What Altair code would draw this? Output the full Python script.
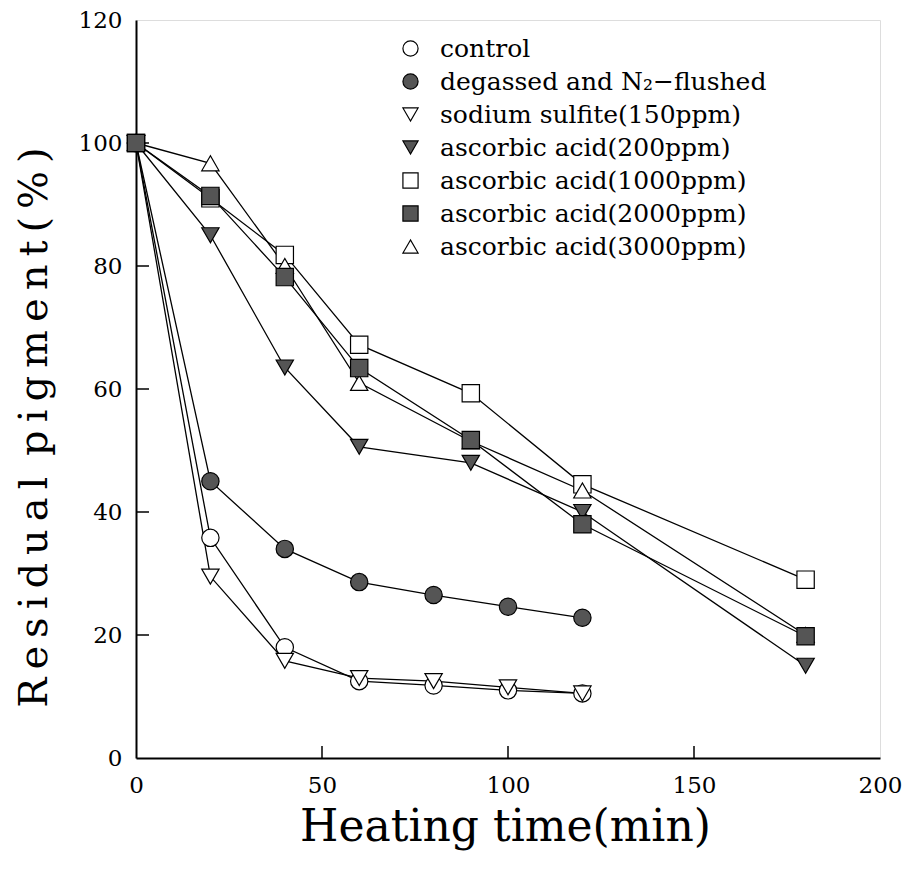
import altair as alt
import pandas as pd

series_names = [
    "control",
    "degassed and N₂−flushed",
    "sodium sulfite(150ppm)",
    "ascorbic acid(200ppm)",
    "ascorbic acid(1000ppm)",
    "ascorbic acid(2000ppm)",
    "ascorbic acid(3000ppm)",
]
series_shapes = ["circle", "circle", "triangle-down", "triangle-down", "square", "square", "triangle-up"]
series_fills = ["white", "#555555", "white", "#555555", "white", "#555555", "white"]
series_strokes = ["black"] * 7
draw_rank = [0, 1, 2, 3, 4, 6, 5]  # 2000ppm squares drawn over 3000ppm triangles

t_short = [0, 20, 40, 60, 80, 100, 120]
t_long = [0, 20, 40, 60, 90, 120, 180]

control = [100, 35.8, 18.0, 12.5, 11.8, 11.0, 10.5]
degassed = [100, 45.0, 34.0, 28.6, 26.5, 24.6, 22.8]
sulfite = [100, 29.5, 15.8, 13.0, 12.5, 11.5, 10.5]
asc200 = [100, 85.0, 63.5, 50.6, 48.0, 40.0, 15.0]
asc1000 = [100, 91.0, 81.8, 67.2, 59.3, 44.5, 29.0]
asc2000 = [100, 91.4, 78.2, 63.4, 51.7, 38.0, 19.8]
asc3000 = [100, 96.7, 80.0, 61.0, 51.5, 43.5, 20.0]

x_ticks = [50, 100, 150]
y_ticks = [20, 40, 60, 80, 100]

x_title = "Heating time(min)"
y_title = "Residual pigment(%)"

rows = []
for i, (ts, vs) in enumerate([
    (t_short, control), (t_short, degassed), (t_short, sulfite),
    (t_long, asc200), (t_long, asc1000), (t_long, asc2000), (t_long, asc3000),
]):
    for t, v in zip(ts, vs):
        rows.append({"series": series_names[i], "rank": draw_rank[i], "t": t, "v": v})
df = pd.DataFrame(rows).sort_values(["rank", "t"]).reset_index(drop=True)

serif = "DejaVu Serif"
W, H = 744, 738
thin = "\u2009"
y_title_spaced = (" " + thin).join(thin.join(word) for word in y_title.split(" "))

x = alt.X("t:Q", scale=alt.Scale(domain=[0, 200], nice=False),
          axis=alt.Axis(values=[0, 50, 100, 150, 200], title=x_title, ticks=False, grid=False,
                        labelFont=serif, labelFontSize=23, labelPadding=16, labelFlush=False,
                        titleFont=serif, titleFontSize=44, titleFontWeight="normal",
                        titleX=369, titleY=82, titleBaseline="alphabetic", titleAlign="center",
                        domainColor="black", domainWidth=2, labelColor="black", titleColor="black"))
y = alt.Y("v:Q", scale=alt.Scale(domain=[0, 120], nice=False),
          axis=alt.Axis(values=[0, 20, 40, 60, 80, 100, 120], title=y_title_spaced, ticks=False, grid=False,
                        labelFont=serif, labelFontSize=23, labelPadding=14, labelFlush=False,
                        titleFont=serif, titleFontSize=40, titleFontWeight="normal",
                        titleX=-90, titleY=407, titleAlign="center", titleBaseline="alphabetic",
                        domainColor="black", domainWidth=2, labelColor="black", titleColor="black"))

lines = alt.Chart(df).mark_line(color="black", strokeWidth=1.3).encode(
    x=x, y=y, detail="series:N", order="t:Q"
)

points = alt.Chart(df).mark_point(filled=True, size=300, strokeWidth=1.2, opacity=1).encode(
    x="t:Q", y="v:Q",
    shape=alt.Shape("series:N", scale=alt.Scale(domain=series_names, range=series_shapes),
                    legend=alt.Legend(title=None, orient="none", legendX=262, legendY=16,
                                      labelFont=serif, labelFontSize=25, labelColor="black", labelLimit=0,
                                      symbolSize=230, rowPadding=7, labelOffset=17,
                                      symbolStrokeColor="black", symbolStrokeWidth=1.2)),
    fill=alt.Fill("series:N", scale=alt.Scale(domain=series_names, range=series_fills), legend=None),
    stroke=alt.Stroke("series:N", scale=alt.Scale(domain=series_names, range=series_strokes), legend=None),
)

xt = pd.DataFrame({"t": x_ticks})
yt = pd.DataFrame({"v": y_ticks})
xticks = alt.Chart(xt).mark_rule(color="black", strokeWidth=1.5).encode(
    x="t:Q", y=alt.value(H), y2=alt.value(H - 12)
)
yticks = alt.Chart(yt).mark_rule(color="black", strokeWidth=1.5).encode(
    y="v:Q", x=alt.value(0), x2=alt.value(13)
)

chart = alt.layer(lines, xticks, yticks, points).properties(
    width=W, height=H,
    autosize=alt.AutoSizeParams(type="none"),
    padding={"left": 136, "top": 20, "right": 33, "bottom": 112},
).configure_view(
    stroke="black", strokeWidth=2
).configure_legend(
    labelFont=serif, labelFontSize=25, labelColor="black"
).configure(background="white", font=serif)

chart.save("out.html", embed_options={"renderer": "svg", "actions": False})
